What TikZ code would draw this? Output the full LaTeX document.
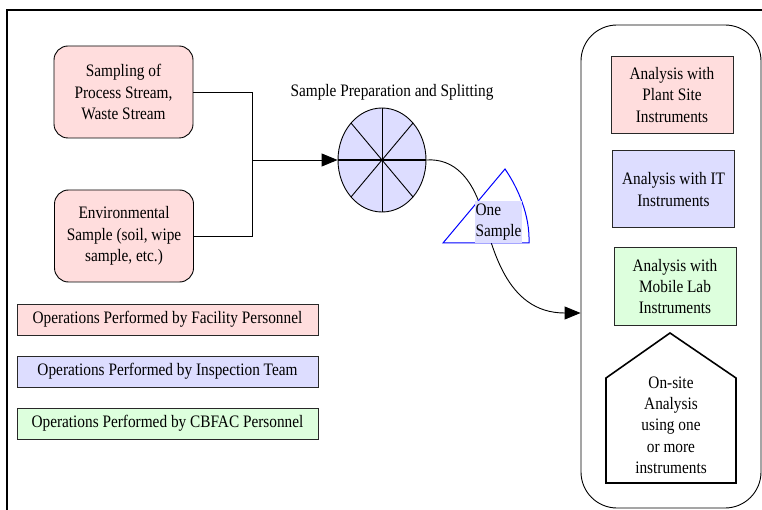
\documentclass[tikz,border=0pt]{standalone}
\usepackage{fontspec}
\setmainfont{Liberation Serif}[FakeStretch=0.875]
\usetikzlibrary{shapes.geometric,arrows.meta,calc}
\definecolor{facility}{RGB}{255,221,221}
\definecolor{inspect}{RGB}{221,221,255}
\definecolor{cbfac}{RGB}{221,255,221}
\definecolor{edgegray}{RGB}{40,40,40}
\tikzset{
  txt/.style={font=\fontsize{17.5}{21.3}\selectfont, align=center, inner sep=0pt},
  roundbox/.style={txt, draw, line width=0.9pt, rounded corners=14pt, fill=facility,
    minimum width=139pt, minimum height=92pt},
  instbox/.style={txt, draw=edgegray, line width=1pt, minimum width=122pt, minimum height=77pt},
  legendbox/.style={txt, draw=edgegray, line width=1pt, minimum width=301pt, minimum height=31pt},
  link/.style={line width=0.9pt},
  tip/.style={-{Triangle[length=16pt,width=13pt]}}
}
\begin{document}
\begin{tikzpicture}[x=1pt,y=-1pt]
\useasboundingbox (0,0) rectangle (762,510);

% page frame
\draw[line width=1.6pt] (7,510) -- (7,10) -- (762,10);

% sampling sources
\node[roundbox] (samp) at (123.5,92) {Sampling of\\Process Stream,\\Waste Stream};
\node[roundbox] (env) at (124,236) {Environmental\\Sample (soil, wipe\\sample, etc.)};

% splitting disc
\node[txt] (title) at (392,92) {Sample Preparation and Splitting};
\node[ellipse, draw, line width=0.9pt, fill=inspect, minimum width=88pt, minimum height=104pt, inner sep=0pt] (split) at (382,160) {};
\draw[link] (split.north) -- (split.south);
\draw[line width=1.7pt] (split.west) -- (split.east);
\draw[link] ($(split.center)+(-31,-37)$) -- ($(split.center)+(31,37)$);
\draw[link] ($(split.center)+(31,-37)$) -- ($(split.center)+(-31,37)$);

% joining the two sources
\coordinate (join) at (252,160);
\draw[link] (samp.east) -| (join);
\draw[link] (env.east) -| (join);
\draw[link, tip] (join) -- (split.west);

% on-site laboratory group
\node[draw, line width=0.9pt, rounded corners=36pt, minimum width=180pt, minimum height=483pt] (lab) at (671,266.5) {};
\coordinate (entry) at (lab.west |- 0,313);

% one sample carried to the laboratory
\draw[link, tip] (split.east) .. controls (455,158) and (472,180) .. (481,208)
  .. controls (492,245) and (505,313) .. (entry);

% sample wedge
\draw[blue, line width=1pt] (443,243) -- (505,169) .. controls (518,188) and (530,215) .. (529,243) -- cycle;
\node[txt, fill=inspect, align=left, inner sep=0.5pt, minimum width=45pt, minimum height=42pt] (one) at (498.5,222) {One\\Sample};

% instruments
\node[instbox, fill=facility] (plant) at (672,95) {Analysis with\\Plant Site\\Instruments};
\node[instbox, fill=inspect] (itinst) at (673.5,189.5) {Analysis with IT\\Instruments};
\node[instbox, fill=cbfac] (mobile) at (675,286.5) {Analysis with\\Mobile Lab\\Instruments};
\draw[line width=1.6pt] (606,483) -- (606,378) -- (670,333) -- (736,378) -- (736,483) -- cycle;
\node[txt] (onsite) at (671,425) {On-site\\Analysis\\using one\\or more\\instruments};

% legend
\node[legendbox, fill=facility] (leg1) at (167.5,319.5) {Operations Performed by Facility Personnel};
\node[legendbox, fill=inspect] (leg2) at (167.5,371.5) {Operations Performed by Inspection Team};
\node[legendbox, fill=cbfac] (leg3) at (167.5,423.5) {Operations Performed by CBFAC Personnel};
\end{tikzpicture}
\end{document}
